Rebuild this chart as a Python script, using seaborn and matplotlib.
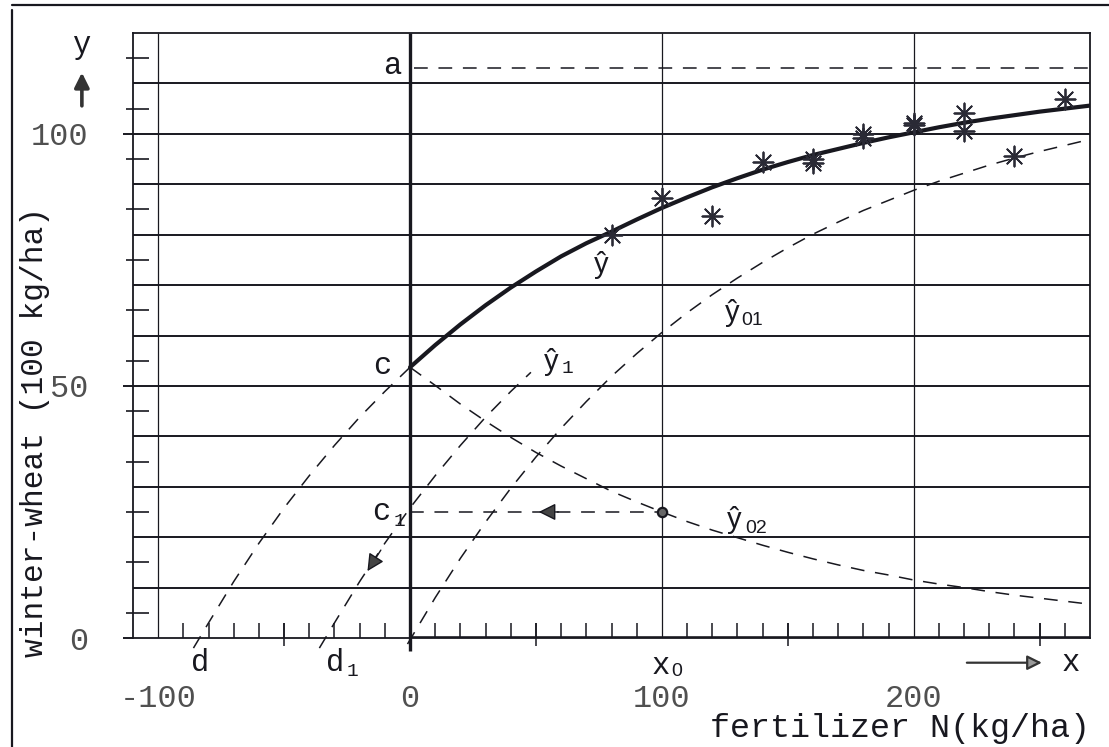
import matplotlib
matplotlib.use("Agg")
import matplotlib.pyplot as plt
from matplotlib.lines import Line2D
import seaborn as sns

# ---- values ----
# fitted yield curve y-hat (solid), x = fertilizer N
curve_x = [0, 10, 20, 30, 40, 50, 60, 70, 80, 90, 100, 110, 120, 130,
           140, 150, 160, 170, 180, 190, 200, 210, 220, 230, 240, 250, 260, 270]
curve_y = [53.7, 58.1, 62.2, 66.0, 69.5, 72.7, 75.7, 78.3, 80.6, 83.0, 85.3,
           87.4, 89.4, 91.2, 92.9, 94.4, 95.8, 97.0, 98.2, 99.3, 100.3, 101.3,
           102.2, 103.0, 103.7, 104.4, 105.0, 105.6]
# dashed continuation of y-hat down to d
ext_x = [-86, -80, -70, -60, -50, -40, -30, -20, -10, 0]
ext_y = [-2.0, 3.0, 11.2, 18.8, 25.8, 32.2, 38.2, 43.8, 48.9, 53.7]
# y-hat 1 (through d1 and c1)
y1_x = [-36, -30, -20, -10, 0, 10, 20, 30, 40, 48]
y1_y = [-2.0, 3.0, 11.2, 18.8, 25.8, 32.2, 38.2, 43.8, 48.9, 52.7]
# y-hat 01 (from the origin)
y01_x = [-1, 10, 20, 30, 40, 50, 60, 70, 80, 90, 100, 110, 120, 130,
         140, 150, 160, 170, 180, 190, 200, 210, 220, 230, 240, 250, 260, 270]
y01_y = [-1.2, 8.0, 15.8, 23.0, 29.7, 35.9, 41.6, 46.9, 51.9, 56.4, 60.6,
         64.5, 68.1, 71.4, 74.5, 77.4, 80.1, 82.5, 84.8, 86.8, 88.8, 90.6,
         92.2, 93.8, 95.2, 96.5, 97.7, 98.9]
# y-hat 02 (falling from c)
y02_x = curve_x
y02_y = [53.7, 50.1, 46.4, 43.0, 39.8, 36.8, 34.1, 31.6, 29.1, 27.0, 25.0,
         23.1, 21.4, 19.9, 18.4, 17.0, 15.7, 14.5, 13.4, 12.5, 11.5, 10.7,
         10.0, 9.2, 8.5, 7.9, 7.3, 6.7]
# observed yields (asterisks)
obs_x = [80, 100, 120, 140, 160, 160, 180, 180, 200, 200, 220, 220, 240, 260]
obs_y = [80.0, 87.3, 83.8, 94.5, 95.0, 94.3, 100.0, 99.2, 102.2, 101.8,
         104.2, 100.6, 95.6, 106.9]
asym_a = 113.0
x0 = 100
c1 = 25.0

grid_y = [10, 20, 30, 40, 50, 60, 70, 80, 90, 100, 110]
major_y = [0, 50, 100]
small_yticks = [5, 15, 25, 35, 45, 55, 65, 75, 85, 95, 105, 115]
vlines_x = [-100, 100, 200]
minor_xticks = [-90, -80, -70, -60, -50, -40, -30, -20, -10, 10, 20, 30, 40, 50,
                60, 70, 80, 90, 110, 120, 130, 140, 150, 160, 170, 180, 190,
                210, 220, 230, 240, 250, 260]
long_xticks = [-50, 50, 150, 250]
xtick_labels = [-100, 0, 100, 200]

sns.set_theme(style="white")
plt.rcParams["font.family"] = ["Liberation Mono", "DejaVu Sans"]

ink = "#18181f"
fig = plt.figure(figsize=(11.09, 7.47), dpi=100)
ax = fig.add_axes([133 / 1109, 109 / 747, 957 / 1109, 605 / 747])
ax.set_xlim(-110, 270)
ax.set_ylim(0, 120)

# grid
ax.hlines(grid_y, -110, 270, color=ink, lw=1.4, zorder=1)
ax.hlines(major_y, -114, -110, color=ink, lw=1.4, clip_on=False)
ax.vlines(vlines_x, 0, 120, color=ink, lw=0.9, zorder=1)
ax.vlines(0, -2.5, 120, color=ink, lw=2.4, clip_on=False, zorder=2)
ax.hlines(0, 0, 270, color=ink, lw=2.6, zorder=2)
ax.hlines(small_yticks, -112.8, -103.7, color=ink, lw=1.2, clip_on=False)
ax.vlines(minor_xticks, 0, 3, color=ink, lw=1.1)
ax.vlines(long_xticks, -1.6, 3, color=ink, lw=1.1, clip_on=False)
for s in ax.spines.values():
    s.set_color(ink)
    s.set_linewidth(1.3)

dash = (0, (9, 7))
kw = dict(ax=ax, color=ink, lw=1.1, linestyle=dash, sort=False)
sns.lineplot(x=ext_x, y=ext_y, clip_on=False, **kw)
sns.lineplot(x=y1_x, y=y1_y, clip_on=False, **kw)
sns.lineplot(x=y01_x, y=y01_y, clip_on=False, **kw)
sns.lineplot(x=y02_x, y=y02_y, **kw)
ax.hlines(asym_a, 1.5, 270, color=ink, lw=1.1, linestyle=dash)
ax.hlines(c1, 0, x0, color=ink, lw=1.1, linestyle=dash)
sns.lineplot(x=curve_x, y=curve_y, ax=ax, color=ink, lw=3.0, sort=False)

sns.scatterplot(x=obs_x, y=obs_y, ax=ax, marker=(8, 2, 0), s=210,
                color="#2a2a35", linewidth=1.3, zorder=5)
sns.scatterplot(x=[x0], y=[c1], ax=ax, s=45, color="#666666",
                edgecolor=ink, linewidth=1.6, zorder=5)

# arrows
ax.annotate("", xy=(50, c1), xytext=(60, c1),
            arrowprops=dict(arrowstyle="-|>", mutation_scale=26, lw=1.0,
                            fc="#444444", ec=ink))
ax.annotate("", xy=(-17.5, 12.8), xytext=(-11, 17.9),
            arrowprops=dict(arrowstyle="-|>", mutation_scale=26, lw=1.0,
                            fc="#444444", ec=ink))
ax.annotate("", xy=(-130.3, 112.7), xytext=(-130.3, 105.0),
            arrowprops=dict(arrowstyle="-|>", mutation_scale=22, lw=2.6,
                            color="#333333"), annotation_clip=False)
ax.annotate("", xy=(252, -4.9), xytext=(220, -4.9),
            arrowprops=dict(arrowstyle="-|>", mutation_scale=22, lw=1.6,
                            fc="#999999", ec="#333333"), annotation_clip=False)

# letters
big = dict(fontsize=22, color=ink, ha="center", va="center", clip_on=False,
           family=["Liberation Mono", "DejaVu Sans"])
sub = dict(fontsize=14, color=ink, ha="center", va="center", clip_on=False,
           family=["Liberation Mono", "DejaVu Sans"])
subs = dict(fontsize=14, color=ink, ha="center", va="center", clip_on=False,
            family=["Liberation Sans", "DejaVu Sans"])
hat = dict(fontsize=21, color=ink, ha="center", va="center", clip_on=False,
           family=["Liberation Sans", "DejaVu Sans"])
ax.text(-130.7, 117.7, "y", **big)
ax.text(262.5, -5.0, "x", **big)
ax.text(-7.1, 113.5, "a", **big)
ax.text(-11.1, 54.0, "c", **big)
ax.text(-11.5, 25.0, "c", **big)
ax.text(-4.0, 23.2, "1", **sub)
ax.text(-83.4, -5.0, "d", **big)
ax.text(-29.8, -5.0, "d", **big)
ax.text(-23.0, -6.7, "1", **sub)
ax.text(99.7, -5.6, "x", **big)
ax.text(106.0, -6.7, "0", **subs)
ax.text(75.9, 74.0, "ŷ", **hat)
ax.text(56.0, 54.8, "ŷ", **hat)
ax.text(62.7, 53.4, "1", **sub)
ax.text(127.9, 64.5, "ŷ", **hat)
ax.text(136.0, 62.9, "01", **subs)
ax.text(128.7, 23.4, "ŷ", **hat)
ax.text(137.4, 21.8, "02", **subs)

# axis text
ax.set_xticks(xtick_labels)
ax.set_xticklabels([str(v) for v in xtick_labels])
ax.set_yticks(major_y)
ax.set_yticklabels([str(v) for v in major_y])
ax.tick_params(axis="x", length=0, pad=33, labelsize=23, labelcolor="#505050")
ax.tick_params(axis="y", length=0, pad=32, labelsize=23, labelcolor="#505050")
ax.set_xlabel("")
ax.set_ylabel("")
fig.text(900 / 1109, 1 - 728 / 747, "fertilizer N(kg/ha)", fontsize=24,
         color=ink, ha="center", va="center")
fig.text(35 / 1109, 1 - 432 / 747, "winter-wheat (100 kg/ha)", fontsize=22.5,
         color=ink, ha="center", va="center", rotation=90)

# scan frame
fig.add_artist(Line2D([12 / 1109, 1], [1 - 5 / 747] * 2, color=ink, lw=1.6))
fig.add_artist(Line2D([12 / 1109] * 2, [0, 1 - 10 / 747], color=ink, lw=1.6))

fig.savefig("out.png", dpi=100, facecolor="white")
